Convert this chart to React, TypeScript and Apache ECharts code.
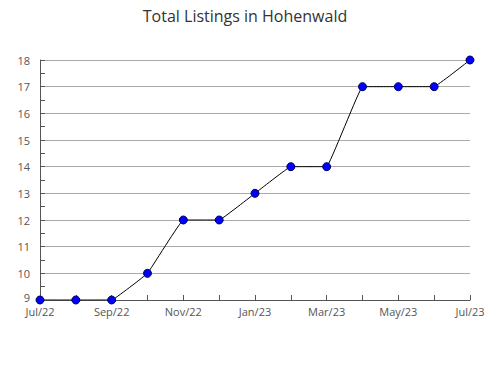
import React, { useEffect, useRef } from "react";
import * as echarts from "echarts";

const months = ["Jul/22","Aug/22","Sep/22","Oct/22","Nov/22","Dec/22","Jan/23","Feb/23","Mar/23","Apr/23","May/23","Jun/23","Jul/23"];
const listings = [9, 9, 9, 10, 12, 12, 13, 14, 14, 17, 17, 17, 18];
const yTicks = { min: 9, max: 18, interval: 1 };
const title = "Total Listings in Hohenwald";

export default function App() {
  const ref = useRef<HTMLDivElement>(null);
  useEffect(() => {
    const chart = echarts.init(ref.current!, null, { renderer: "svg" });
    chart.setOption({
      animation: false,
      backgroundColor: "#ffffff",
      textStyle: { fontFamily: "Open Sans" },
      title: {
        text: title,
        left: "center",
        top: 3,
        textStyle: { fontFamily: "Open Sans", fontSize: 16, fontWeight: "normal", color: "#333" },
      },
      grid: { left: 40, right: 20, top: 60, bottom: 80, containLabel: false },
      xAxis: {
        type: "category",
        data: months,
        boundaryGap: false,
        axisLine: { lineStyle: { color: "#555", width: 1 } },
        axisTick: { show: true, inside: true, length: 5, interval: 0, lineStyle: { color: "#555" } },
        axisLabel: { interval: 1, color: "#555555", fontSize: 11, margin: 6, lineHeight: 11, fontFamily: "Open Sans" },
        splitLine: { show: false },
      },
      yAxis: {
        type: "value",
        min: yTicks.min,
        max: yTicks.max,
        interval: yTicks.interval,
        axisLine: { show: true, lineStyle: { color: "#555", width: 1 } },
        axisTick: { show: true, inside: true, length: 5, lineStyle: { color: "#555" } },
        minorTick: { show: true, splitNumber: 2, length: 5, lineStyle: { color: "#555" } },
        axisLabel: {
          color: "#555555",
          fontSize: 11,
          margin: 10,
          lineHeight: 10,
          fontFamily: "Open Sans",
          formatter: (v: number) => (v === yTicks.min ? `{lo|${v}}` : `${v}`),
          rich: { lo: { fontSize: 11, lineHeight: 10, color: "#555555", fontFamily: "Open Sans", padding: [0, 0, 6, 0] } },
        },
        splitLine: { show: true, lineStyle: { color: "#aaa", width: 1 } },
      },
      series: [
        {
          type: "line",
          data: listings,
          smooth: 0.05,
          lineStyle: { color: "#000", width: 1 },
          symbol: "circle",
          symbolSize: 8,
          itemStyle: { color: "#0000ff", borderColor: "#000060", borderWidth: 1 },
        },
      ],
    });
    return () => chart.dispose();
  }, []);
  return <div ref={ref} style={{ position: "fixed", left: 0, top: 0, width: 490, height: 380 }} />;
}
